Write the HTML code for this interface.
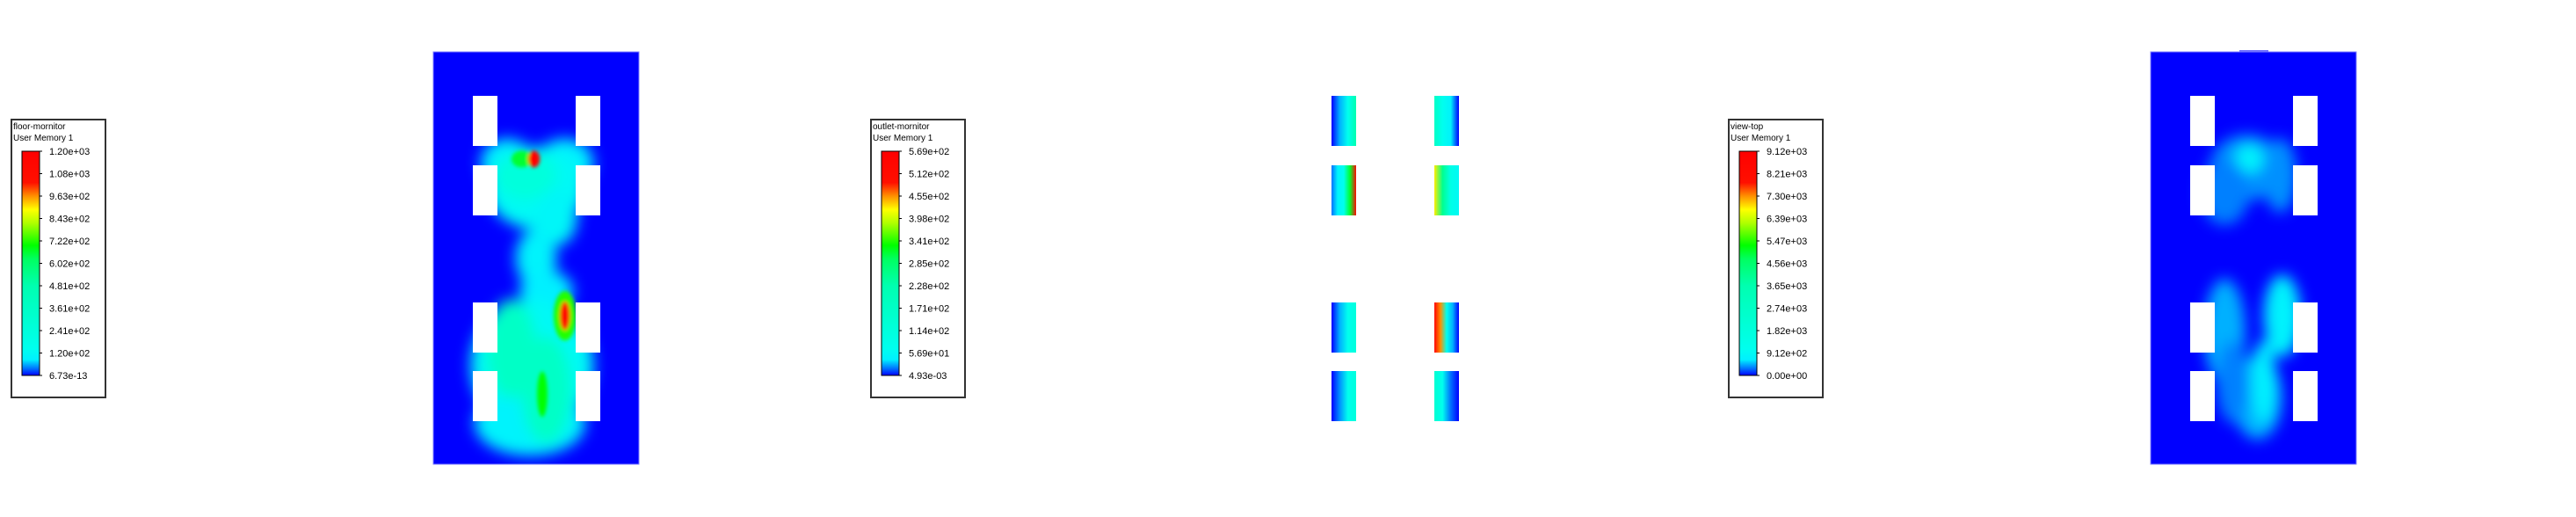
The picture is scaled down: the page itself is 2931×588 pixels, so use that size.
<!DOCTYPE html>
<html><head><meta charset="utf-8">
<style>
html,body{margin:0;padding:0;background:#fff;}
body{width:2931px;height:588px;overflow:hidden;position:relative;font-family:"Liberation Sans",sans-serif;}
svg{position:absolute;left:0;top:0;}
</style></head>
<body>
<svg id="chart" width="2931" height="588" viewBox="0 0 2931 588" xmlns="http://www.w3.org/2000/svg">
<defs>
  <linearGradient id="cmap" x1="0" y1="1" x2="0" y2="0">
    <stop offset="0" stop-color="#0000ff"/>
    <stop offset="0.03" stop-color="#0070ff"/>
    <stop offset="0.07" stop-color="#00f0ff"/>
    <stop offset="0.12" stop-color="#00ffee"/>
    <stop offset="0.4" stop-color="#00ffb0"/>
    <stop offset="0.52" stop-color="#00ff60"/>
    <stop offset="0.58" stop-color="#00ff00"/>
    <stop offset="0.68" stop-color="#b0ff00"/>
    <stop offset="0.74" stop-color="#ffff00"/>
    <stop offset="0.8" stop-color="#ff9000"/>
    <stop offset="0.86" stop-color="#ff1000"/>
    <stop offset="1" stop-color="#ff0000"/>
  </linearGradient>
  <filter id="blur8" x="-50%" y="-50%" width="200%" height="200%"><feGaussianBlur stdDeviation="8"/></filter>
  <filter id="blur2" x="-50%" y="-50%" width="200%" height="200%"><feGaussianBlur stdDeviation="2"/></filter>
  <clipPath id="clipFloor"><rect x="493" y="59" width="234" height="469"/></clipPath>
  <clipPath id="clipTop"><rect x="2447" y="59" width="234" height="469"/></clipPath>
</defs>
<g id="legends"></g>
<g id="panels"></g>
</svg>
<script>
// Legend data
const legendTitles = ["floor-mornitor","outlet-mornitor","view-top"];
const floorTicks = ["1.20e+03","1.08e+03","9.63e+02","8.43e+02","7.22e+02","6.02e+02","4.81e+02","3.61e+02","2.41e+02","1.20e+02","6.73e-13"];
const outletTicks = ["5.69e+02","5.12e+02","4.55e+02","3.98e+02","3.41e+02","2.85e+02","2.28e+02","1.71e+02","1.14e+02","5.69e+01","4.93e-03"];
const topTicks = ["9.12e+03","8.21e+03","7.30e+03","6.39e+03","5.47e+03","4.56e+03","3.65e+03","2.74e+03","1.82e+03","9.12e+02","0.00e+00"];
// blob field data: [cx frac, cy frac, rx frac, ry frac, level 0..1]
const floorBlobs = [
 [0.36,0.27,0.13,0.06,0.07],[0.64,0.27,0.14,0.06,0.07],[0.5,0.33,0.24,0.1,0.1],
 [0.45,0.3,0.15,0.06,0.2],[0.6,0.4,0.1,0.07,0.09],
 [0.5,0.5,0.1,0.07,0.08],[0.55,0.58,0.13,0.05,0.07],
 [0.48,0.76,0.3,0.16,0.1],[0.47,0.9,0.27,0.08,0.08],[0.38,0.72,0.12,0.12,0.3],[0.55,0.82,0.12,0.13,0.3],
 [0.43,0.26,0.05,0.02,0.55],[0.49,0.26,0.028,0.02,0.95],
 [0.64,0.64,0.055,0.06,0.6],[0.64,0.64,0.025,0.035,0.9],[0.53,0.83,0.025,0.055,0.58]
];
const topBlobs = [
 [0.47,0.28,0.18,0.08,0.04],[0.48,0.26,0.07,0.035,0.08],[0.63,0.3,0.08,0.09,0.04],[0.36,0.34,0.12,0.08,0.035],
 [0.36,0.68,0.1,0.13,0.05],[0.64,0.64,0.09,0.1,0.075],[0.52,0.84,0.12,0.1,0.05],[0.55,0.8,0.06,0.1,0.07],[0.4,0.8,0.08,0.1,0.035]
];
// outlet strips: levels from inner edge (toward centre) to outer edge; order L0..L3, R0..R3
const outletLevels = [
 [0.4,0.12,0.05,0.0],[0.95,0.55,0.12,0.08,0.03],[0.2,0.12,0.05,0.0],[0.2,0.12,0.04,0.0],
 [0.3,0.12,0.08,0.0],[0.75,0.45,0.15,0.1],[0.95,0.8,0.12,0.05,0.0],[0.25,0.12,0.03,0.0]
];

const NS="http://www.w3.org/2000/svg";
function mk(tag,attrs,parent){const e=document.createElementNS(NS,tag);for(const k in attrs)e.setAttribute(k,attrs[k]);parent.appendChild(e);return e;}
function cmap(v){
  const st=[[0,[0,0,255]],[0.03,[0,112,255]],[0.07,[0,240,255]],[0.12,[0,255,238]],[0.4,[0,255,176]],[0.52,[0,255,96]],[0.58,[0,255,0]],[0.68,[176,255,0]],[0.74,[255,255,0]],[0.8,[255,144,0]],[0.86,[255,16,0]],[1,[255,0,0]]];
  v=Math.max(0,Math.min(1,v));
  for(let i=1;i<st.length;i++){if(v<=st[i][0]){const a=st[i-1],b=st[i];const t=(v-a[0])/(b[0]-a[0]);const c=a[1].map((x,j)=>Math.round(x+(b[1][j]-x)*t));return `rgb(${c})`;}}
  return "rgb(255,0,0)";
}
const legG=document.getElementById('legends');
const legX=[13,991,1967];
const allTicks=[floorTicks,outletTicks,topTicks];
legX.forEach((x,i)=>{
  const g=mk('g',{},legG);
  
  
  const box=mk('rect',{x:x,y:136,width:107,height:316,fill:'#fff',stroke:'#333','stroke-width':2},g);
  
  
  const t1=mk('text',{x:x+2,y:147,'font-size':10,fill:'#000'},g);t1.textContent=legendTitles[i];
  
  
  const t2=mk('text',{x:x+2,y:160,'font-size':10,fill:'#000'},g);t2.textContent="User Memory 1";
  
  
  const bx=x+12;
  const bar=mk('rect',{x:bx,y:172,width:20,height:255,fill:'url(#cmap)',stroke:'#000','stroke-width':1},g);
  
  
  allTicks[i].forEach((lab,k)=>{
    const y=172+k*255/(allTicks[i].length-1);
    mk('line',{x1:bx+20,x2:bx+23,y1:y,y2:y,stroke:'#000','stroke-width':1},g);
    const t=mk('text',{x:bx+31,y:y+4,'font-size':11,fill:'#000'},g);t.textContent=lab;
    
    
  });
});

const pG=document.getElementById('panels');
const rowsY=[109,188,344,422];
function drawPanel(x0,clip,blobs,name,tab){
  const g=mk('g',{},pG);
  
  
  if(tab) mk('rect',{x:x0+101,y:57,width:33,height:3,fill:'#6a6aff'},g);
  mk('rect',{x:x0,y:59,width:234,height:469,fill:'#0000ff',stroke:'#8080ff','stroke-width':1},g);
  const bg=mk('g',{'clip-path':'url(#'+clip+')'},g);
  const fLow=mk('g',{filter:'url(#blur8)'},bg);
  const fHigh=mk('g',{filter:'url(#blur2)'},bg);
  blobs.forEach(b=>{
    const e=mk('ellipse',{cx:x0+b[0]*234,cy:59+b[1]*469,rx:b[2]*234,ry:b[3]*469,fill:cmap(b[4])},b[4]>0.5?fHigh:fLow);
    
    
  });
  [x0+45,x0+162].forEach(rx=>rowsY.forEach(ry=>{
    const r=mk('rect',{x:rx,y:ry,width:28,height:57,fill:'#fff'},g);
    
    
  }));
}
drawPanel(493,'clipFloor',floorBlobs,'floor-contour-panel',false);
drawPanel(2447,'clipTop',topBlobs,'view-top-contour-panel',true);

// outlet panel
const og=mk('g',{},pG);


const defs=document.querySelector('defs');
let idx=0;
[[1515,0],[1632,1]].forEach(([x,col])=>rowsY.forEach((y,row)=>{
  const lv=outletLevels[col*4+row];
  const gid='og'+idx++;
  const lg=mk('linearGradient',{id:gid,x1:col===0?'1':'0',x2:col===0?'0':'1',y1:'0',y2:'0'},defs);
  lv.forEach((v,k)=>mk('stop',{offset:k/(lv.length-1),'stop-color':cmap(v)},lg));
  const r=mk('rect',{x:x,y:y,width:28,height:57,fill:'url(#'+gid+')'},og);
  
  
}));
</script>
</body></html>
